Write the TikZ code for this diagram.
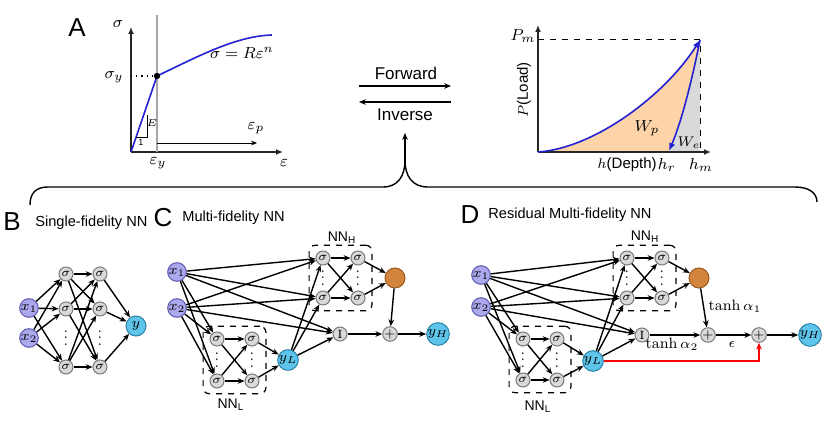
\documentclass[tikz,border=0pt]{standalone}
\usepackage{fontspec}
\setsansfont{Liberation Sans}
\usetikzlibrary{arrows.meta,fit,positioning}

\definecolor{inpfill}{HTML}{ABA8EE}
\definecolor{inpline}{HTML}{5F5BB0}
\definecolor{sigfill}{HTML}{D9D9D9}
\definecolor{sigline}{HTML}{7A7A7A}
\definecolor{yfill}{HTML}{5EC4EA}
\definecolor{yline}{HTML}{2A82A6}
\definecolor{orgfill}{HTML}{D3843C}
\definecolor{orgline}{HTML}{9A5A20}
\definecolor{peach}{HTML}{FCD4A8}
\definecolor{curveblue}{HTML}{2222D2}

% small vertical dots between neurons
\newcommand{\vdotstack}{\vbox{\baselineskip=3.2pt\lineskiplimit=0pt
  \hbox{.}\hbox{.}\hbox{.}}}

\tikzset{
  neuron/.style={circle, draw=sigline, fill=sigfill, line width=0.5pt,
    minimum size=7pt, inner sep=0pt, font=\fontsize{6}{6}\selectfont},
  inpnode/.style={neuron, draw=inpline, fill=inpfill, minimum size=9pt,
    font=\fontsize{7}{7}\selectfont},
  outnode/.style={neuron, draw=yline, fill=yfill, minimum size=10pt,
    font=\fontsize{7}{7}\selectfont},
  orgnode/.style={neuron, draw=orgline, fill=orgfill, minimum size=10pt},
  vdts/.style={inner sep=0pt, font=\fontsize{7}{7}\selectfont},
  link/.style={-{Stealth[length=3.4pt,width=2.8pt]}, line width=0.7pt},
  nnbox/.style={draw, dashed, rounded corners=3pt, line width=0.6pt,
    inner xsep=3.2pt, inner ysep=2.6pt},
  nnlab/.style={font=\sffamily\fontsize{7}{7}\selectfont},
  panel/.style={font=\sffamily\fontsize{13}{13}\selectfont},
  ptitle/.style={anchor=west, inner sep=0pt, font=\sffamily\fontsize{7.3}{9}\selectfont},
  axis/.style={line width=0.9pt, draw=black!85, -{Latex[length=3.5pt,width=3pt]}},
  curve/.style={line width=0.8pt, draw=curveblue},
  plotlab/.style={font=\fontsize{8.5}{9}\selectfont},
  wlab/.style={font=\fontsize{7.5}{8}\selectfont}
}

\begin{document}
\begin{tikzpicture}[x=0.5pt, y=-0.5pt]
    \useasboundingbox (0,0) rectangle (830,422);

    % Panel A: stress-strain curve
    \node[panel] (labA) at (77,28) {A};
    \coordinate (sO) at (131,152);
    \draw[axis] (sO) -- (131,27);
    \draw[axis] (sO) -- (283,152);
    \draw[gray!70, line width=0.6pt] (157,15) -- (157,152);
    \draw[dotted, line width=0.6pt] (131,76) -- (157,76);
    \draw[curve] (sO) -- (157,76) .. controls (195,58) and (235,36) .. (272,35);
    \node[circle, fill, inner sep=0pt, minimum size=3.2pt] (ydot) at (157,76) {};
    \draw[line width=0.4pt] (136,137) -- (147,137) -- (147,115);
    \draw[-{Stealth[length=3pt,width=2.4pt]}, line width=0.4pt] (157,143) -- (257,143);
    \node[plotlab] (lsig) at (118,24) {$\sigma$};
    \node[plotlab] (leps) at (284,163) {$\varepsilon$};
    \node[plotlab] (lepsy) at (158,163) {$\varepsilon_y$};
    \node[plotlab] (lsigy) at (114,77) {$\sigma_y$};
    \node[plotlab] (llaw) at (242,53) {$\sigma = R\varepsilon^n$};
    \node[plotlab] (lepsp) at (256,128) {$\varepsilon_p$};
    \node[font=\fontsize{4.5}{5}\selectfont] (lE) at (152,123) {$E$};
    \node[font=\sffamily\fontsize{4.5}{5}\selectfont] (l1) at (141,142) {1};

    % Panel A: load-depth curve
    \fill[peach] (538,152) .. controls (595,148) and (665,95) .. (700,40)
        .. controls (690,90) and (680,125) .. (669,151) -- cycle;
    \fill[gray!30] (700,40) .. controls (690,90) and (680,125) .. (669,151)
        -- (700,152) -- cycle;
    \draw[dashed, line width=0.5pt] (538,40) -- (700,40) -- (700,152);
    \draw[axis] (538,152) -- (538,25);
    \draw[axis] (538,152) -- (711,152);
    \draw[curve, -{Latex[length=4pt,width=3.2pt]}] (538,152)
        .. controls (595,148) and (665,95) .. (700,40);
    \draw[curve, -{Latex[length=4pt,width=3.2pt]}] (700,40)
        .. controls (690,90) and (680,125) .. (669,151);
    \node[plotlab] (lPm) at (523,36) {$P_m$};
    \node[wlab, rotate=90] (lP) at (524,90) {$P$\sffamily(Load)};
    \node[plotlab] (lWp) at (647,128) {$W_p$};
    \node[wlab] (lWe) at (689,143) {$W_e$};
    \node[wlab] (lh) at (627,165) {$h$\sffamily(Depth)};
    \node[plotlab] (lhr) at (667,165) {$h_r$};
    \node[plotlab] (lhm) at (701,165) {$h_m$};

    % Forward / inverse arrows and the brace
    \node[font=\sffamily\fontsize{8.5}{9}\selectfont] (fwd) at (406,73) {Forward};
    \node[font=\sffamily\fontsize{8.5}{9}\selectfont] (inv) at (405,115) {Inverse};
    \coordinate (fwdA) at (359,86);
    \coordinate (fwdB) at (451,86);
    \coordinate (invA) at (451,102);
    \coordinate (invB) at (359,102);
    \draw[link] (fwdA) -- (fwdB);
    \draw[link] (invA) -- (invB);
    \coordinate (tip) at (405,133);
    \draw[line width=0.7pt] (30,205) .. controls (30,193) and (36,187) .. (48,187)
        -- (383,187) .. controls (398,187) and (405,176) .. (405,160);
    \draw[line width=0.7pt] (405,160) .. controls (405,176) and (412,187) .. (428,187)
        -- (795,187) .. controls (809,187) and (817,193) .. (817,202);
    \draw[link] (405,162) -- (tip);

    % Panel B: single-fidelity network
    \node[panel] (labB) at (12,222) {B};
    \node[ptitle] (titB) at (35,223) {Single-fidelity NN};
    \node[inpnode] (bx1) at (29,308) {$x_1$};
    \node[inpnode] (bx2) at (29,338) {$x_2$};
    \node[neuron] (b11) at (66,274) {$\sigma$};
    \node[neuron] (b12) at (66,309) {$\sigma$};
    \node[neuron] (b13) at (66,367) {$\sigma$};
    \node[neuron] (b21) at (100,274) {$\sigma$};
    \node[neuron] (b22) at (100,309) {$\sigma$};
    \node[neuron] (b23) at (100,367) {$\sigma$};
    \node[vdts] (bd1) at (66,338) {\vdotstack};
    \node[vdts] (bd2) at (100,338) {\vdotstack};
    \node[outnode] (by) at (136,326) {$y$};
    \draw[link] (bx1) edge (b11) edge (b12) edge (b13)
                (bx2) edge (b11) edge (b12) edge (b13);
    \draw[link] (b11) edge (b21) edge (b22) edge (b23)
                (b12) edge (b21) edge (b22) edge (b23)
                (b13) edge (b21) edge (b22) edge (b23);
    \draw[link] (b21) edge (by) (b22) edge (by) (b23) edge (by);

    % Panel C: multi-fidelity network
    \node[panel] (labC) at (163,218) {C};
    \node[ptitle] (titC) at (182,218) {Multi-fidelity NN};
    \node[inpnode] (cx1) at (177,272) {$x_1$};
    \node[inpnode] (cx2) at (177,308) {$x_2$};
    \node[neuron] (cl11) at (217,339) {$\sigma$};
    \node[neuron] (cl12) at (252,339) {$\sigma$};
    \node[neuron] (cl21) at (217,381) {$\sigma$};
    \node[neuron] (cl22) at (252,381) {$\sigma$};
    \node[vdts] (cld1) at (217,360) {\vdotstack};
    \node[vdts] (cld2) at (252,360) {\vdotstack};
    \node[outnode] (cyl) at (288,360) {$y_L$};
    \node[neuron] (ch11) at (323,258) {$\sigma$};
    \node[neuron] (ch12) at (358,258) {$\sigma$};
    \node[neuron] (ch21) at (323,298) {$\sigma$};
    \node[neuron] (ch22) at (358,298) {$\sigma$};
    \node[vdts] (chd1) at (323,278) {\vdotstack};
    \node[vdts] (chd2) at (358,278) {\vdotstack};
    \node[orgnode] (corg) at (395,278) {};
    \node[neuron] (cI) at (340,334) {$\mathrm{I}$};
    \node[neuron] (cplus) at (390,334) {$+$};
    \node[outnode] (cyh) at (438,334) {$y_H$};
    \node[nnbox, fit=(cl11)(cl22)] (cboxL) {};
    \node[nnbox, fit=(ch11)(ch22)] (cboxH) {};
    \node[nnlab] (clabL) at (231,405) {NN$_\mathsf{L}$};
    \node[nnlab] (clabH) at (342,238) {NN$_\mathsf{H}$};
    \draw[link] (cx1) edge (ch11) edge (ch21) edge (cI) edge (cl11) edge (cl21)
                (cx2) edge (ch11) edge (ch21) edge (cI) edge (cl11) edge (cl21);
    \draw[link] (cl11) edge (cl12) edge (cl22) (cl21) edge (cl12) edge (cl22)
                (cl12) edge (cyl) (cl22) edge (cyl);
    \draw[link] (cyl) edge (ch11) edge (ch21) edge (cI);
    \draw[link] (ch11) edge (ch12) edge (ch22) (ch21) edge (ch12) edge (ch22)
                (ch12) edge (corg) (ch22) edge (corg);
    \draw[link] (corg) edge (cplus) (cI) edge (cplus) (cplus) edge (cyh);

    % Panel D: residual multi-fidelity network
    \node[panel] (labD) at (470,215) {D};
    \node[ptitle] (titD) at (488,215) {Residual Multi-fidelity NN};
    \node[inpnode] (dx1) at (481,275) {$x_1$};
    \node[inpnode] (dx2) at (481,307) {$x_2$};
    \node[neuron] (dl11) at (523,339) {$\sigma$};
    \node[neuron] (dl12) at (557,339) {$\sigma$};
    \node[neuron] (dl21) at (523,380) {$\sigma$};
    \node[neuron] (dl22) at (557,380) {$\sigma$};
    \node[vdts] (dld1) at (523,360) {\vdotstack};
    \node[vdts] (dld2) at (557,360) {\vdotstack};
    \node[outnode] (dyl) at (593,361) {$y_L$};
    \node[neuron] (dh11) at (627,258) {$\sigma$};
    \node[neuron] (dh12) at (662,258) {$\sigma$};
    \node[neuron] (dh21) at (627,298) {$\sigma$};
    \node[neuron] (dh22) at (662,298) {$\sigma$};
    \node[vdts] (dhd1) at (627,278) {\vdotstack};
    \node[vdts] (dhd2) at (662,278) {\vdotstack};
    \node[orgnode] (dorg) at (699,278) {};
    \node[neuron] (dI) at (642,335) {$\mathrm{I}$};
    \node[neuron] (dplus) at (708,335) {$+$};
    \node[neuron] (dplusb) at (759,335) {$+$};
    \node[outnode] (dyh) at (810,335) {$y_H$};
    \node[nnbox, fit=(dl11)(dl22)] (dboxL) {};
    \node[nnbox, fit=(dh11)(dh22)] (dboxH) {};
    \node[nnlab] (dlabL) at (538,407) {NN$_\mathsf{L}$};
    \node[nnlab] (dlabH) at (645,237) {NN$_\mathsf{H}$};
    \draw[link] (dx1) edge (dh11) edge (dh21) edge (dI) edge (dl11) edge (dl21)
                (dx2) edge (dh11) edge (dh21) edge (dI) edge (dl11) edge (dl21);
    \draw[link] (dl11) edge (dl12) edge (dl22) (dl21) edge (dl12) edge (dl22)
                (dl12) edge (dyl) (dl22) edge (dyl);
    \draw[link] (dyl) edge (dh11) edge (dh21) edge (dI);
    \draw[link] (dh11) edge (dh12) edge (dh22) (dh21) edge (dh12) edge (dh22)
                (dh12) edge (dorg) (dh22) edge (dorg);
    \draw[link] (dorg) edge (dplus) (dI) edge (dplus) (dplus) edge (dplusb)
                (dplusb) edge (dyh);
    \draw[link, red] (dyl) -| (dplusb);
    \node[wlab] (ltanha) at (735,306) {$\tanh\alpha_1$};
    \node[wlab] (ltanhb) at (672,344) {$\tanh\alpha_2$};
    \node[wlab] (leps2) at (732,344) {$\epsilon$};
\end{tikzpicture}
\end{document}
